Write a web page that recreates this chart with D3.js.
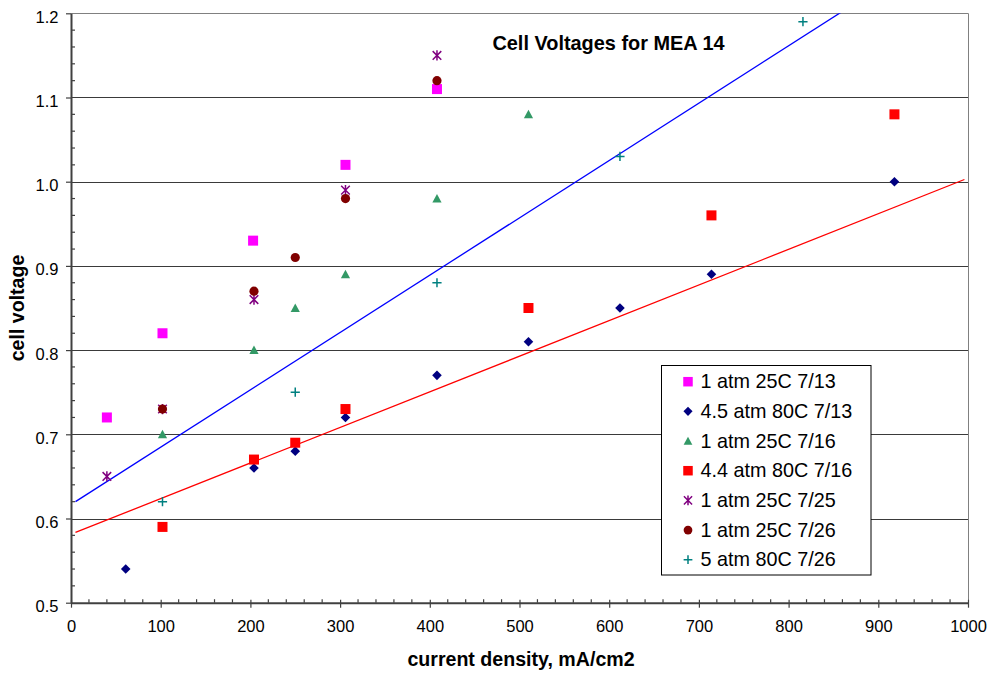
<!DOCTYPE html>
<html>
<head>
<meta charset="utf-8">
<script src="https://cdn.jsdelivr.net/npm/d3@7"></script>
<style>
  html, body { margin: 0; padding: 0; background: #ffffff; }
  svg { display: block; font-family: Arial, "Liberation Sans", sans-serif; }
</style>
</head>
<body>
<svg id="chart" width="990" height="673"></svg>
<script>
// ---------------- DATA ----------------
const chartTitle = "Cell Voltages for MEA 14";
const xAxisTitle = "current density, mA/cm2";
const yAxisTitle = "cell voltage";

const xTicks = [0, 100, 200, 300, 400, 500, 600, 700, 800, 900, 1000];
const yTicks = [0.5, 0.6, 0.7, 0.8, 0.9, 1.0, 1.1, 1.2];

const seriesNames = [
  "1 atm 25C 7/13",
  "4.5 atm 80C 7/13",
  "1 atm 25C 7/16",
  "4.4 atm 80C 7/16",
  "1 atm 25C 7/25",
  "1 atm 25C 7/26",
  "5 atm 80C 7/26"
];

const s713_1atm_x = [40, 102, 203, 306, 408];
const s713_1atm_y = [0.72, 0.82, 0.93, 1.02, 1.11];

const s713_45atm_x = [61, 204, 250, 306, 408, 510, 612, 714, 918];
const s713_45atm_y = [0.54, 0.66, 0.68, 0.72, 0.77, 0.81, 0.85, 0.89, 1.00];

const s716_1atm_x = [102, 204, 250, 306, 408, 510];
const s716_1atm_y = [0.70, 0.80, 0.85, 0.89, 0.98, 1.08];

const s716_44atm_x = [102, 204, 250, 306, 510, 714, 918];
const s716_44atm_y = [0.59, 0.67, 0.69, 0.73, 0.85, 0.96, 1.08];

const s725_1atm_x = [40, 102, 204, 306, 408];
const s725_1atm_y = [0.65, 0.73, 0.86, 0.99, 1.15];

const s726_1atm_x = [102, 204, 250, 306, 408];
const s726_1atm_y = [0.73, 0.87, 0.91, 0.98, 1.12];

const s726_5atm_x = [102, 250, 408, 612, 816];
const s726_5atm_y = [0.62, 0.75, 0.88, 1.03, 1.19];

// trend lines: [x start, x end], intercept, slope
const blueTrendX = [5, 1000];
const blueTrendCoef = [0.6166, 0.000681];
const redTrendX = [5, 996];
const redTrendCoef = [0.5813, 0.000423];

// ---------------- STYLES ----------------
const seriesStyle = [
  { shape: "square",   color: "#FF00FF" },
  { shape: "diamond",  color: "#000080" },
  { shape: "triangle", color: "#339966" },
  { shape: "square",   color: "#FF0000" },
  { shape: "star",     color: "#800080" },
  { shape: "circle",   color: "#800000" },
  { shape: "plus",     color: "#008080" }
];
const seriesX = [s713_1atm_x, s713_45atm_x, s716_1atm_x, s716_44atm_x, s725_1atm_x, s726_1atm_x, s726_5atm_x];
const seriesY = [s713_1atm_y, s713_45atm_y, s716_1atm_y, s716_44atm_y, s725_1atm_y, s726_1atm_y, s726_5atm_y];

// ---------------- LAYOUT ----------------
const svg = d3.select("#chart");
const plot = { left: 71, right: 968, top: 13.3, bottom: 602.7 };

const x = d3.scaleLinear().domain([0, 1000]).range([plot.left, plot.right]);
const y = d3.scaleLinear().domain([0.5, 1.2]).range([plot.bottom, plot.top]);

svg.append("rect").attr("width", 990).attr("height", 673).attr("fill", "#fff");

// clip
svg.append("defs").append("clipPath").attr("id", "plotClip")
  .append("rect")
  .attr("x", plot.left).attr("y", plot.top)
  .attr("width", plot.right - plot.left).attr("height", plot.bottom - plot.top);

// gridlines
svg.append("g").selectAll("line")
  .data(yTicks.filter(d => d > 0.5))
  .join("line")
  .attr("x1", plot.left).attr("x2", plot.right)
  .attr("y1", d => Math.round(y(d)) + 0.5).attr("y2", d => Math.round(y(d)) + 0.5)
  .attr("stroke", d => (d === 1.2 ? "#808080" : "#3a3a3a"))
  .attr("stroke-width", 1);

// right border
svg.append("line")
  .attr("x1", Math.round(plot.right) + 0.5).attr("x2", Math.round(plot.right) + 0.5)
  .attr("y1", plot.top).attr("y2", plot.bottom)
  .attr("stroke", "#808080").attr("stroke-width", 1);

// y axis (major ticks outward, labels)
const yAxis = d3.axisLeft(y).tickValues(yTicks).tickFormat(d3.format(".1f"))
  .tickSizeInner(5).tickSizeOuter(0).tickPadding(6);
const gy = svg.append("g").attr("transform", `translate(${plot.left},0)`).call(yAxis);
gy.select(".domain").attr("stroke", "#404040").attr("stroke-width", 2);
gy.selectAll(".tick line").attr("stroke", "#404040").attr("stroke-width", 1.2);
gy.selectAll(".tick text").attr("font-size", "16.5px").attr("fill", "#000")
  .attr("font-family", "Arial, 'Liberation Sans', sans-serif").attr("dy", "0.55em")
  .attr("x", -12.5);

// y minor ticks (inward)
const yMinor = d3.range(0, 36).map(i => 0.5 + i * 0.02).filter(v => Math.round(v * 100) % 10 !== 0);
svg.append("g").selectAll("line").data(yMinor).join("line")
  .attr("x1", plot.left).attr("x2", plot.left + 4)
  .attr("y1", d => y(d)).attr("y2", d => y(d))
  .attr("stroke", "#404040").attr("stroke-width", 1.2);

// x axis
const xAxis = d3.axisBottom(x).tickValues(xTicks).tickFormat(d3.format("d"))
  .tickSizeInner(5).tickSizeOuter(0).tickPadding(13);
const gx = svg.append("g").attr("transform", `translate(0,${plot.bottom})`).call(xAxis);
gx.select(".domain").attr("stroke", "#404040").attr("stroke-width", 2);
gx.selectAll(".tick line").attr("stroke", "#404040").attr("stroke-width", 1.2).attr("y1", -3);
gx.selectAll(".tick text").attr("font-size", "16.5px").attr("fill", "#000")
  .attr("font-family", "Arial, 'Liberation Sans', sans-serif");

// x minor ticks (inward)
const xMinor = d3.range(0, 51).map(i => i * 20).filter(v => v % 100 !== 0);
svg.append("g").selectAll("line").data(xMinor).join("line")
  .attr("x1", d => x(d)).attr("x2", d => x(d))
  .attr("y1", plot.bottom).attr("y2", plot.bottom - 3.5)
  .attr("stroke", "#404040").attr("stroke-width", 1.2);

// trend lines
const trendG = svg.append("g").attr("clip-path", "url(#plotClip)");
const lineGen = d3.line().x(d => x(d[0])).y(d => y(d[1]));
function trendPts(xr, c) { return xr.map(v => [v, c[0] + c[1] * v]); }
trendG.append("path").datum(trendPts(blueTrendX, blueTrendCoef))
  .attr("d", lineGen).attr("fill", "none").attr("stroke", "#0000FF").attr("stroke-width", 1.3);
trendG.append("path").datum(trendPts(redTrendX, redTrendCoef))
  .attr("d", lineGen).attr("fill", "none").attr("stroke", "#FF0000").attr("stroke-width", 1.3);

// markers
function drawMarker(g, shape, color, cx, cy, scale) {
  const s = scale || 1;
  if (shape === "square") {
    g.append("rect").attr("x", cx - 5 * s).attr("y", cy - 5 * s)
      .attr("width", 10 * s).attr("height", 10 * s).attr("fill", color);
  } else if (shape === "diamond") {
    const r = 4.8 * s;
    g.append("path").attr("d", `M${cx},${cy - r}L${cx + r},${cy}L${cx},${cy + r}L${cx - r},${cy}Z`)
      .attr("fill", color);
  } else if (shape === "triangle") {
    const r = 4.6 * s;
    g.append("path").attr("d", `M${cx},${cy - r}L${cx + r},${cy + r * 0.85}L${cx - r},${cy + r * 0.85}Z`)
      .attr("fill", color);
  } else if (shape === "circle") {
    g.append("circle").attr("cx", cx).attr("cy", cy).attr("r", 4.6 * s).attr("fill", color);
  } else if (shape === "star") {
    const r = 4.3 * s;
    g.append("path")
      .attr("d", `M${cx - r},${cy - r}L${cx + r},${cy + r}M${cx - r},${cy + r}L${cx + r},${cy - r}M${cx},${cy - r - 0.8}L${cx},${cy + r + 0.8}`)
      .attr("stroke", color).attr("stroke-width", 1.5).attr("fill", "none");
  } else if (shape === "plus") {
    const r = 4.6 * s;
    g.append("path")
      .attr("d", `M${cx - r},${cy}L${cx + r},${cy}M${cx},${cy - r}L${cx},${cy + r}`)
      .attr("stroke", color).attr("stroke-width", 1.5).attr("fill", "none");
  }
}

const markG = svg.append("g");
seriesNames.forEach((name, i) => {
  const g = markG.append("g").attr("class", "series");
  seriesX[i].forEach((xv, j) => {
    drawMarker(g, seriesStyle[i].shape, seriesStyle[i].color, x(xv), y(seriesY[i][j]));
  });
});

// title
svg.append("text").attr("x", 608.5).attr("y", 49.5).attr("text-anchor", "middle")
  .attr("font-size", "19.9px").attr("font-weight", "bold").attr("fill", "#000").text(chartTitle);

// axis titles
svg.append("text").attr("x", 521).attr("y", 666)
  .attr("text-anchor", "middle").attr("font-size", "19.6px").attr("font-weight", "bold")
  .attr("fill", "#000").text(xAxisTitle);
svg.append("text").attr("transform", `translate(24,${(plot.top + plot.bottom) / 2}) rotate(-90)`)
  .attr("text-anchor", "middle").attr("font-size", "19.6px").attr("font-weight", "bold")
  .attr("fill", "#000").text(yAxisTitle);

// legend
const legend = { x: 661.5, y: 365.5, w: 209.5, h: 209.5, rowY0: 381.7, rowStep: 29.67, markX: 688, textX: 700.5 };
const lg = svg.append("g");
lg.append("rect").attr("x", legend.x).attr("y", legend.y).attr("width", legend.w).attr("height", legend.h)
  .attr("fill", "#fff").attr("stroke", "#000").attr("stroke-width", 1);
seriesNames.forEach((name, i) => {
  const cy = legend.rowY0 + i * legend.rowStep;
  drawMarker(lg, seriesStyle[i].shape, seriesStyle[i].color, legend.markX, cy, 0.95);
  lg.append("text").attr("x", legend.textX).attr("y", cy + 6.6)
    .attr("font-size", "19.8px").attr("fill", "#000").text(name);
});
</script>
</body>
</html>
